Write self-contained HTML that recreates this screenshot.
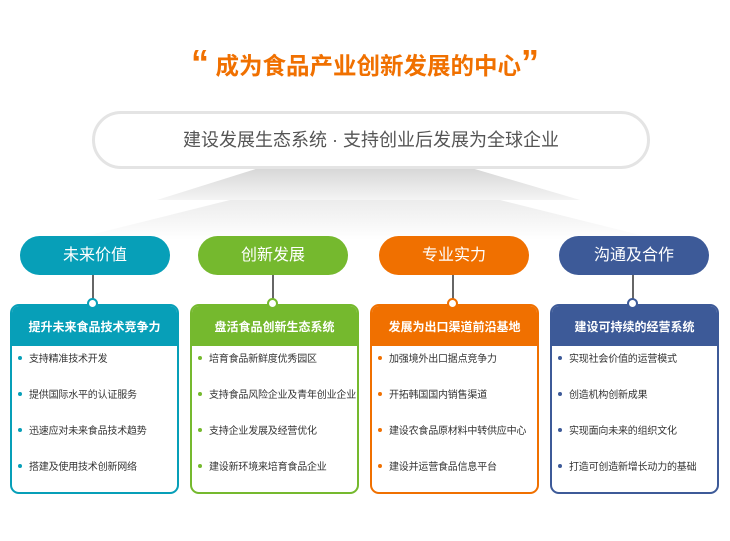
<!DOCTYPE html>
<html><head><meta charset="utf-8"><style>
*{margin:0;padding:0;box-sizing:border-box}
body{width:730px;height:541px;background:#fff;position:relative;overflow:hidden;font-family:"Liberation Sans","Noto Sans CJK SC",sans-serif}
.abs{position:absolute}
.title{left:0;width:730px;top:48px;text-align:center;color:#f07000;font-size:23.5px;font-weight:bold;line-height:36px}
.q{font-size:36px;vertical-align:top;line-height:30px;font-family:"Liberation Sans",sans-serif;font-weight:bold}
.big{left:92px;top:111px;width:558px;height:58px;border:3px solid #e4e4e4;border-radius:29px;background:#fff;text-align:center;line-height:52px;font-size:18px;color:#555}
.pill{top:236px;width:150px;height:39px;border-radius:20px;color:#fff;text-align:center;line-height:39px;font-size:16px}
.line{width:2px;height:26px;top:275px;background:#666}
.dot{width:11px;height:11px;border-radius:50%;background:#fff;top:298px;border:2.5px solid}
.card{top:304px;width:169px;height:190px;border:2.5px solid;border-radius:9px;background:#fff;overflow:hidden}
.hd{height:40px;color:#fff;font-size:12px;font-weight:bold;text-align:center;line-height:42px}
.card ul{list-style:none;padding:0 0 0 6px}
.card li{height:36px;line-height:26px;font-size:10px;color:#333;white-space:nowrap;letter-spacing:-0.2px}
.card li:first-child{margin-top:1px}
.card li b{display:inline-block;width:4px;height:4px;border-radius:50%;margin:0 7px 2px 0;vertical-align:middle}
</style></head><body>
<svg class="abs" style="left:0;top:0" width="730" height="541">
<defs><linearGradient id="g" x1="0" y1="0" x2="0" y2="1"><stop offset="0" stop-color="#d6d6d6"/><stop offset="1" stop-color="#f4f4f4"/></linearGradient>
<linearGradient id="g2" x1="0" y1="0" x2="0" y2="1"><stop offset="0" stop-color="#ececec"/><stop offset="1" stop-color="#ffffff"/></linearGradient></defs>
<polygon points="230,200 500,200 660,240 70,240" fill="url(#g2)"/>
<polygon points="262,167 468,167 580,200 157,200" fill="url(#g)"/>
</svg>
<div class="abs title"><span class="q">“</span> 成为食品产业创新发展的中心<span class="q">”</span></div>
<div class="abs big">建设发展生态系统 · 支持创业后发展为全球企业</div>

<div class="abs pill" style="left:20px;background:#079fb8">未来价值</div>
<div class="abs pill" style="left:198px;background:#75b92e">创新发展</div>
<div class="abs pill" style="left:379px;background:#f07000">专业实力</div>
<div class="abs pill" style="left:559px;background:#3d5a98">沟通及合作</div>

<div class="abs line" style="left:92px"></div>
<div class="abs line" style="left:272px"></div>
<div class="abs line" style="left:452px"></div>
<div class="abs line" style="left:632px"></div>

<div class="abs card" style="left:10px;border-color:#079fb8"><div class="hd" style="background:#079fb8">提升未来食品技术竞争力</div><ul>
<li><b style="background:#079fb8"></b>支持精准技术开发</li><li><b style="background:#079fb8"></b>提供国际水平的认证服务</li><li><b style="background:#079fb8"></b>迅速应对未来食品技术趋势</li><li><b style="background:#079fb8"></b>搭建及使用技术创新网络</li></ul></div>
<div class="abs card" style="left:190px;border-color:#75b92e"><div class="hd" style="background:#75b92e">盘活食品创新生态系统</div><ul>
<li><b style="background:#75b92e"></b>培育食品新鲜度优秀园区</li><li><b style="background:#75b92e"></b>支持食品风险企业及青年创业企业</li><li><b style="background:#75b92e"></b>支持企业发展及经营优化</li><li><b style="background:#75b92e"></b>建设新环境来培育食品企业</li></ul></div>
<div class="abs card" style="left:370px;border-color:#f07000"><div class="hd" style="background:#f07000">发展为出口渠道前沿基地</div><ul>
<li><b style="background:#f07000"></b>加强境外出口据点竞争力</li><li><b style="background:#f07000"></b>开拓韩国国内销售渠道</li><li><b style="background:#f07000"></b>建设农食品原材料中转供应中心</li><li><b style="background:#f07000"></b>建设并运营食品信息平台</li></ul></div>
<div class="abs card" style="left:550px;border-color:#3d5a98"><div class="hd" style="background:#3d5a98">建设可持续的经营系统</div><ul>
<li><b style="background:#3d5a98"></b>实现社会价值的运营模式</li><li><b style="background:#3d5a98"></b>创造机构创新成果</li><li><b style="background:#3d5a98"></b>实现面向未来的组织文化</li><li><b style="background:#3d5a98"></b>打造可创造新增长动力的基础</li></ul></div>

<div class="abs dot" style="left:87px;border-color:#079fb8"></div>
<div class="abs dot" style="left:267px;border-color:#75b92e"></div>
<div class="abs dot" style="left:447px;border-color:#f07000"></div>
<div class="abs dot" style="left:627px;border-color:#3d5a98"></div>
</body></html>
